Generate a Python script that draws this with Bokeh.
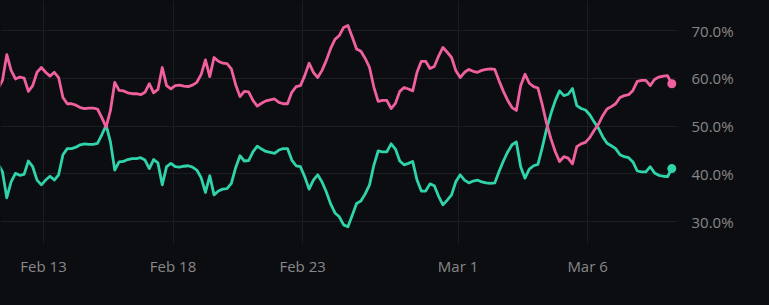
import pandas as pd
from bokeh.plotting import figure
from bokeh.models import Range1d, FixedTicker, PrintfTickFormatter
from bokeh.embed import file_html
from bokeh.resources import INLINE

# ---- data (percent share, 4-hour steps) ----
start_time = "2025-02-11 06:00"
step = "4h"

pink_values = [
    57.9, 59.6, 65.0, 61.7, 59.9, 60.3, 60.1, 57.3, 58.5, 61.3,
    62.3, 61.3, 60.5, 61.3, 60.2, 56.0, 54.7, 54.7, 54.4, 53.9,
    53.7, 53.8, 53.8, 53.6, 51.8, 49.8, 53.3, 59.2, 57.5, 57.4,
    57.0, 56.8, 56.8, 56.6, 57.1, 58.9, 57.0, 57.7, 62.3, 58.5,
    57.8, 58.5, 58.6, 58.4, 58.3, 58.6, 59.2, 60.8, 63.9, 60.4,
    64.4, 63.6, 63.2, 63.1, 62.0, 58.7, 56.2, 57.3, 57.2, 55.4,
    54.2, 54.8, 55.3, 55.5, 55.7, 55.0, 54.7, 54.7, 57.1, 58.3,
    58.5, 60.6, 63.2, 61.3, 60.2, 61.7, 63.8, 66.3, 68.2, 69.0,
    70.7, 71.1, 68.7, 66.2, 65.7, 64.2, 62.3, 58.2, 55.2, 55.4,
    55.4, 53.7, 54.8, 57.3, 58.1, 57.8, 57.4, 61.3, 63.6, 63.6,
    62.1, 62.5, 64.7, 66.5, 65.5, 64.4, 61.6, 60.2, 61.3, 61.9,
    61.5, 61.3, 61.7, 61.9, 62.0, 61.9, 59.5, 57.3, 55.4, 53.9,
    53.3, 58.5, 60.9, 59.0, 58.3, 58.0, 54.5, 50.6, 47.4, 44.7,
    42.6, 43.6, 43.3, 42.1, 45.7, 46.3, 46.6, 47.6, 49.1, 50.4,
    52.2, 53.6, 54.1, 54.7, 56.0, 56.4, 56.6, 57.5, 59.4, 59.6,
    59.6, 58.5, 59.8, 60.3, 60.5, 60.6, 58.9,
]

teal_values = [
    42.1, 40.4, 35.0, 38.3, 40.1, 39.7, 39.9, 42.7, 41.5, 38.7,
    37.7, 38.7, 39.5, 38.7, 39.8, 44.0, 45.3, 45.3, 45.6, 46.1,
    46.3, 46.2, 46.2, 46.4, 48.2, 50.2, 46.7, 40.8, 42.5, 42.6,
    43.0, 43.2, 43.2, 43.4, 42.9, 41.1, 43.0, 42.3, 37.7, 41.5,
    42.2, 41.5, 41.4, 41.6, 41.7, 41.4, 40.8, 39.2, 36.1, 39.6,
    35.6, 36.4, 36.8, 36.9, 38.0, 41.3, 43.8, 42.7, 42.8, 44.6,
    45.8, 45.2, 44.7, 44.5, 44.3, 45.0, 45.3, 45.3, 42.9, 41.7,
    41.5, 39.4, 36.8, 38.7, 39.8, 38.3, 36.2, 33.7, 31.8, 31.0,
    29.3, 28.9, 31.3, 33.8, 34.3, 35.8, 37.7, 41.8, 44.8, 44.6,
    44.6, 46.3, 45.2, 42.7, 41.9, 42.2, 42.6, 38.7, 36.4, 36.4,
    37.9, 37.5, 35.3, 33.5, 34.5, 35.6, 38.4, 39.8, 38.7, 38.1,
    38.5, 38.7, 38.3, 38.1, 38.0, 38.1, 40.5, 42.7, 44.6, 46.1,
    46.7, 41.5, 39.1, 41.0, 41.7, 42.0, 45.5, 49.4, 52.6, 55.3,
    57.4, 56.4, 56.7, 57.9, 54.3, 53.7, 53.4, 52.4, 50.9, 49.6,
    47.8, 46.4, 45.9, 45.3, 44.0, 43.6, 43.4, 42.5, 40.6, 40.4,
    40.4, 41.5, 40.2, 39.7, 39.5, 39.4, 41.1,
]

tick_dates = ["2025-02-13", "2025-02-18", "2025-02-23", "2025-03-01", "2025-03-06"]
tick_labels = ["Feb 13", "Feb 18", "Feb 23", "Mar 1", "Mar 6"]
y_ticks = [30, 40, 50, 60, 70]

# ---- styling ----
BG = "#0c0d11"
GRID = "#1b1d22"
TEXT = "#878787"
PINK = "#f0609e"
TEAL = "#2fd4aa"
FONT = "Open Sans"

times = pd.date_range(start_time, periods=len(pink_values), freq=step)

DAY_MS = 86400000.0
ref = pd.Timestamp(tick_dates[0]).value / 1e6
x_start = ref - 1.66 * DAY_MS
x_end = ref + 24.47 * DAY_MS

p = figure(
    width=769, height=305,
    x_axis_type="datetime",
    y_axis_location="right",
    output_backend="svg",
    toolbar_location=None,
    x_range=Range1d(x_start, x_end),
    y_range=Range1d(25.4, 76.35),
    min_border_left=0, min_border_top=0,
    min_border_right=92, min_border_bottom=62,
)
p.styles = {"background-color": BG}
p.background_fill_color = BG
p.border_fill_color = BG
p.outline_line_color = None

tick_ms = [pd.Timestamp(d).value / 1e6 for d in tick_dates]
p.xaxis.ticker = FixedTicker(ticks=tick_ms)
p.xaxis.major_label_overrides = {t: lab for t, lab in zip(tick_ms, tick_labels)}
p.yaxis.ticker = FixedTicker(ticks=y_ticks)
p.yaxis.formatter = PrintfTickFormatter(format="%.1f%%")

for ax in list(p.xaxis) + list(p.yaxis):
    ax.axis_line_color = None
    ax.major_tick_line_color = None
    ax.minor_tick_line_color = None
    ax.major_tick_out = 0
    ax.major_tick_in = 0
    ax.minor_tick_out = 0
    ax.major_label_text_color = TEXT
    ax.major_label_text_font = FONT
    ax.major_label_text_font_size = "15px"
p.xaxis.major_label_standoff = 12
p.yaxis.major_label_standoff = 14

p.xgrid.grid_line_color = GRID
p.ygrid.grid_line_color = GRID
p.xgrid.grid_line_width = 1
p.ygrid.grid_line_width = 1

p.line(times, teal_values, line_color=TEAL, line_width=2.8, line_join="round")
p.line(times, pink_values, line_color=PINK, line_width=2.8, line_join="round")
p.scatter([times[-1]], [teal_values[-1]], size=9, fill_color=TEAL, line_color=None)
p.scatter([times[-1]], [pink_values[-1]], size=9, fill_color=PINK, line_color=None)

open("out.html", "w").write(file_html(p, INLINE))
